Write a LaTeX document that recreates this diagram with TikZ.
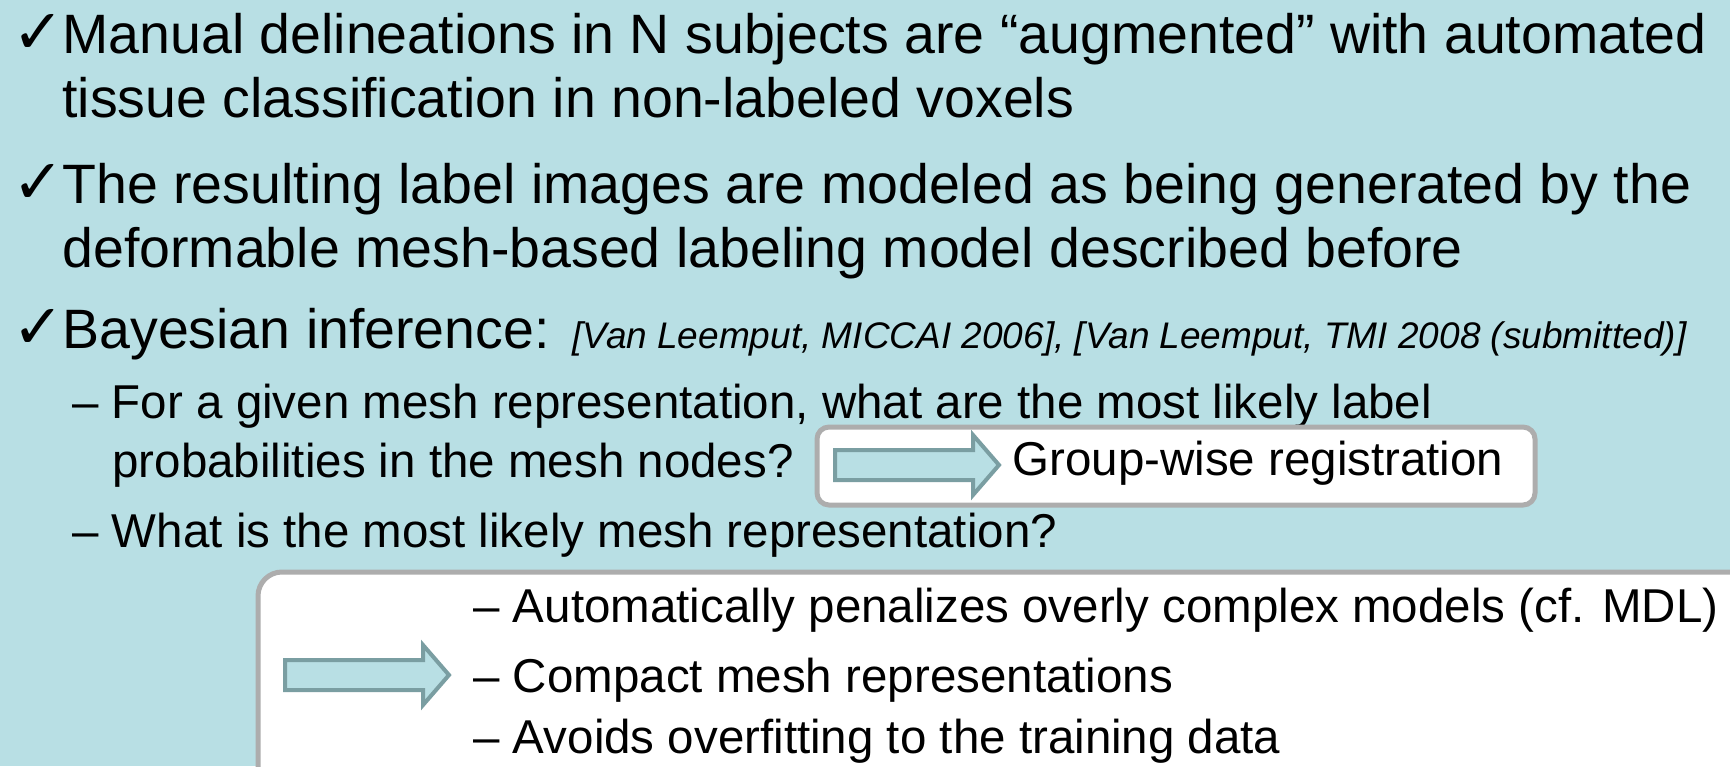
\documentclass[tikz,border=0pt]{standalone}
\usepackage{fontspec}
\setmainfont{Liberation Sans}
\newfontfamily\tickfont{DejaVu Sans}

\definecolor{slideteal}{HTML}{B8DFE4}
\definecolor{arrowedge}{HTML}{7A9EA2}
\definecolor{boxedge}{HTML}{ADADAD}

\tikzset{
  mainline/.style={anchor=base west, inner sep=0pt, font=\fontsize{27.75}{32}\selectfont},
  subline/.style={anchor=base west, inner sep=0pt, font=\fontsize{23.75}{28}\selectfont},
  citeline/.style={anchor=base west, inner sep=0pt, font=\fontsize{18.5}{22}\selectfont\itshape},
  tickmark/.style={anchor=base west, inner sep=0pt, font=\tickfont\fontsize{31}{34}\selectfont},
  callout/.style={draw=boxedge, line width=2.5pt, fill=white},
  arrowbody/.style={draw=arrowedge, line width=2pt, fill=slideteal, line join=miter},
  pics/blockarrow/.style={code={
    \draw[arrowbody] (0,-15) -- (138,-15) -- (138,-30) -- (164,0) -- (138,30) -- (138,15) -- (0,15) -- cycle;
  }}
}

\begin{document}
\begin{tikzpicture}[x=0.5pt, y=-0.5pt]
                \useasboundingbox (0,0) rectangle (1730,766);
                \fill[slideteal] (0,0) rectangle (1730,766);
                \clip (0,0) rectangle (1730,766);

                % first level bullets
                \node[tickmark] (tick1) at (12,53) {✓};
                \node[mainline] (manual) at (62,53) {Manual delineations in N subjects are “augmented” with automated};
                \node[mainline] (tissue) at (62,117) {tissue classification in non-labeled voxels};
                \node[tickmark] (tick2) at (12,203) {✓};
                \node[mainline] (resulting) at (62,203) {The resulting label images are modeled as being generated by the};
                \node[mainline] (deformable) at (62,267) {deformable mesh-based labeling model described before};
                \node[tickmark] (tick3) at (12,348) {✓};
                \node[mainline] (bayes) at (62,348) {Bayesian inference:};
                \node[citeline] (cite) at (572,348) {[Van Leemput, MICCAI 2006], [Van Leemput, TMI 2008 (submitted)]};

                % second level
                \node[subline] (given) at (72,418) {– For a given mesh representation,\ what are the most likely label};
                \node[subline] (probs) at (112,477) {probabilities in the mesh nodes?};
                \node[subline] (likely) at (72,547) {– What is the most likely mesh representation?};

                % group-wise box
                \draw[callout, rounded corners=6pt] (817,427) rectangle (1535,505);
                \pic at (835,465) {blockarrow};
                \node[subline] (groupwise) at (1012,475) {Group-wise registration};

                % mesh box
                \draw[callout, rounded corners=12pt] (258,572) rectangle (1800,830);
                \pic at (285,675) {blockarrow};
                \node[subline] (auto) at (473,622) {– Automatically penalizes overly complex models (cf. MDL)};
                \node[subline] (compact) at (473,692) {– Compact mesh representations};
                \node[subline] (avoid) at (473,753) {– Avoids overfitting to the training data};
\end{tikzpicture}
\end{document}
